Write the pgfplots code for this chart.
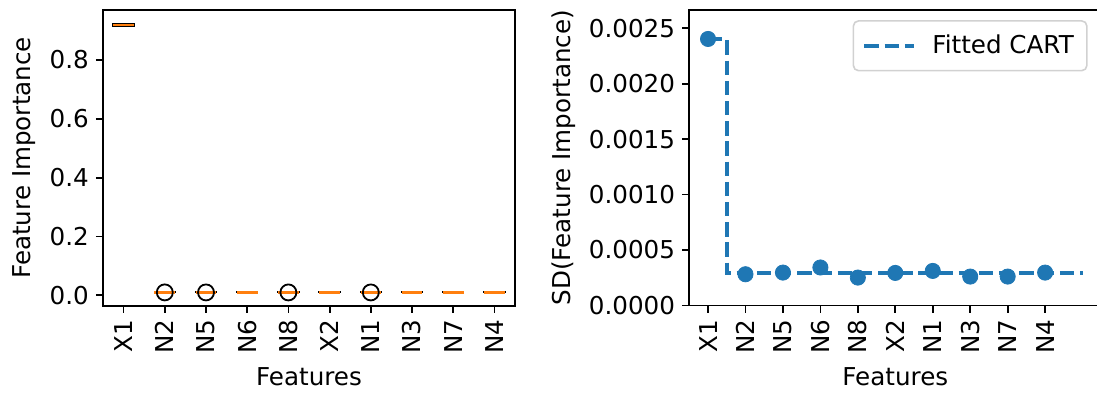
\documentclass[border=0pt]{standalone}
\usepackage{fontspec}
\setmainfont{DejaVu Sans}
\usepackage{pgfplots}
\pgfplotsset{compat=1.18}
\usepgfplotslibrary{statistics}
\definecolor{mplblue}{HTML}{1F77B4}
\definecolor{mplorange}{HTML}{FF7F0E}
\newcommand{\fs}{\fontsize{12.3}{14.5}\selectfont}
\begin{document}
\begin{tikzpicture}
\path[use as bounding box] (0,0) rectangle (548.5pt,196pt);
\pgfplotsset{
  common/.style={
    scale only axis, width=206pt, height=147.8pt, anchor=south west,
    axis line style={line width=0.9pt},
    tick style={line width=0.9pt, black},
    major tick length=3.6pt, tick align=outside,
    xtick pos=bottom, ytick pos=left,
    ticklabel style={font=\fs},
    label style={font=\fs},
    /pgf/number format/assume math mode=true,
    xtick={1,2,3,4,5,6,7,8,9,10},
    xticklabels={X1,N2,N5,N6,N8,X2,N1,N3,N7,N4},
    xticklabel style={rotate=90, anchor=east},
    xlabel={Features},
  }
}
\begin{axis}[common, at={(51.5pt,43.2pt)},
  xmin=0.5, xmax=10.5, ymin=-0.0351, ymax=0.970,
  ytick={0,0.2,0.4,0.6,0.8},
  yticklabel style={/pgf/number format/.cd, fixed, fixed zerofill, precision=1},
  ylabel={Feature Importance},
  boxplot/draw direction=y,
  boxplot/box extend=0.5, boxplot/whisker extend=0.25,
  boxplot/every median/.style={draw=mplorange, line width=1.3pt},
]
\addplot[black, line width=0.9pt, boxplot prepared={draw position=1, median=0.919, lower quartile=0.9165, upper quartile=0.9215, lower whisker=0.914, upper whisker=0.924}] coordinates {};
\addplot[black, line width=0.9pt, mark=o, mark size=4pt, mark options={solid}, boxplot prepared={draw position=2, median=0.0103, lower quartile=0.0101, upper quartile=0.0105, lower whisker=0.0099, upper whisker=0.0107}] table[row sep=\\, y index=0] {v\\ 0.0098\\};
\addplot[black, line width=0.9pt, mark=o, mark size=4pt, mark options={solid}, boxplot prepared={draw position=3, median=0.0102, lower quartile=0.0100, upper quartile=0.0104, lower whisker=0.0098, upper whisker=0.0106}] table[row sep=\\, y index=0] {v\\ 0.0097\\};
\addplot[black, line width=0.9pt, boxplot prepared={draw position=4, median=0.0104, lower quartile=0.0102, upper quartile=0.0106, lower whisker=0.0100, upper whisker=0.0108}] coordinates {};
\addplot[black, line width=0.9pt, mark=o, mark size=4pt, mark options={solid}, boxplot prepared={draw position=5, median=0.0102, lower quartile=0.0100, upper quartile=0.0104, lower whisker=0.0098, upper whisker=0.0106}] table[row sep=\\, y index=0] {v\\ 0.0097\\};
\addplot[black, line width=0.9pt, boxplot prepared={draw position=6, median=0.0102, lower quartile=0.0100, upper quartile=0.0104, lower whisker=0.0098, upper whisker=0.0106}] coordinates {};
\addplot[black, line width=0.9pt, mark=o, mark size=4pt, mark options={solid}, boxplot prepared={draw position=7, median=0.0102, lower quartile=0.0100, upper quartile=0.0104, lower whisker=0.0098, upper whisker=0.0106}] table[row sep=\\, y index=0] {v\\ 0.0097\\};
\addplot[black, line width=0.9pt, boxplot prepared={draw position=8, median=0.0102, lower quartile=0.0100, upper quartile=0.0104, lower whisker=0.0098, upper whisker=0.0106}] coordinates {};
\addplot[black, line width=0.9pt, boxplot prepared={draw position=9, median=0.0102, lower quartile=0.0100, upper quartile=0.0104, lower whisker=0.0098, upper whisker=0.0106}] coordinates {};
\addplot[black, line width=0.9pt, boxplot prepared={draw position=10, median=0.0102, lower quartile=0.0100, upper quartile=0.0104, lower whisker=0.0098, upper whisker=0.0106}] coordinates {};
\end{axis}
\begin{axis}[common, at={(344.65pt,43.3pt)},
  xmin=0.5, xmax=11.5, ymin=0, ymax=0.002666,
  ytick={0,0.0005,0.0010,0.0015,0.0020,0.0025},
  scaled y ticks=false,
  yticklabel style={/pgf/number format/.cd, fixed, fixed zerofill, precision=4},
  ylabel={SD(Feature Importance)},
  legend style={at={(0.9668,0.965)}, anchor=north east, draw=black!18, rounded corners=2.5pt, line width=0.8pt, fill=white, font=\fs, inner xsep=4.5pt, inner ysep=5pt, /tikz/every odd column/.append style={column sep=6pt}},
  legend image code/.code={\draw[#1] (0pt,0pt) -- (25pt,0pt);},
]
\addplot[only marks, mark=*, mark size=3.8pt, color=mplblue, forget plot] coordinates {
(1,0.002403) (2,0.000281) (3,0.000296) (4,0.000342) (5,0.000251)
(6,0.000293) (7,0.000311) (8,0.000260) (9,0.000260) (10,0.000296)};
\addplot[mplblue, line width=2pt, dash pattern=on 7.2pt off 2.9pt] coordinates {(1,0.002403) (1.5,0.002403) (1.5,0.000293) (11,0.000293)};
\addlegendentry{Fitted CART}
\end{axis}
\end{tikzpicture}
\end{document}
